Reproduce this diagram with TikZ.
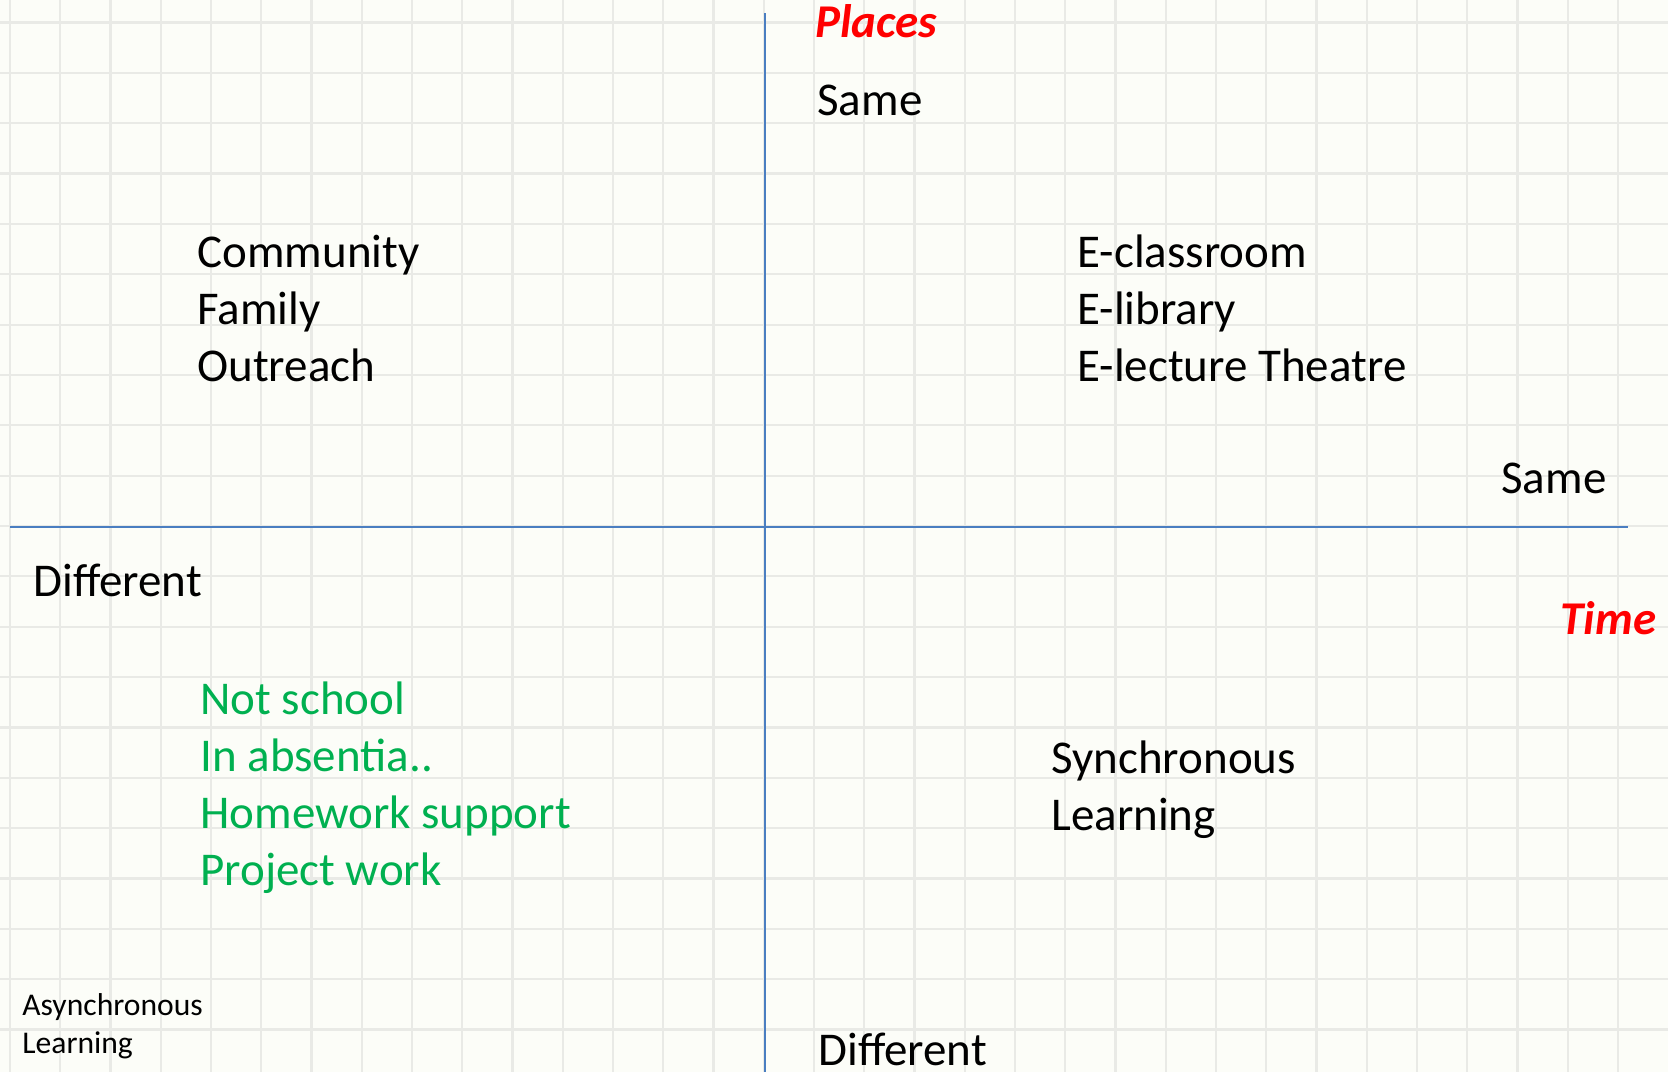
\documentclass[tikz,border=0pt]{standalone}
\usepackage{fontspec}
\setmainfont{Carlito}
\definecolor{paper}{HTML}{FCFDF8}
\definecolor{gridgray}{HTML}{E9EAE6}
\definecolor{axisblue}{HTML}{4A7EC1}
\definecolor{axisred}{HTML}{FF0000}
\definecolor{listgreen}{HTML}{00B050}

\begin{document}
\begin{tikzpicture}[x=0.5pt,y=-0.5pt]
    \tikzstyle{word} = [anchor=base west, inner sep=0pt, align=left,
    font={\fontsize{23.5}{28.5}\selectfont}]
    \tikzstyle{smallword} = [word, font={\fontsize{15.8}{19}\selectfont}]
    \tikzstyle{axisname} = [word, text=axisred,
    font={\fontsize{23.5}{28.5}\selectfont\bfseries\itshape}]
    \tikzstyle{axisline} = [draw=axisblue, line width=1pt]
    \tikzstyle{gridline} = [draw=gridgray, line width=1.1pt]

    % paper and squares
    \fill [paper] (0,0) rectangle (1668,1072);
    \useasboundingbox (0,0) rectangle (1668,1072);
    \foreach \i in {0,...,32}
        \draw [gridline] (10+50.25*\i,0) -- (10+50.25*\i,1072);
    \foreach \j in {0,...,20}
        \draw [gridline] (0,22.5+50.35*\j) -- (1668,22.5+50.35*\j);

    % axes
    \coordinate (top) at (765,13);
    \coordinate (bottom) at (765,1072);
    \coordinate (left) at (9.6,527);
    \coordinate (right) at (1628,527);
    \draw [axisline] (top) -- (bottom);
    \draw [axisline] (left) -- (right);

    % axis names
    \node [axisname] (places) at (815,37) {Places};
    \node [axisname] (time) at (1560,634) {Time};
    \node [word] (sametop) at (817,115) {Same};
    \node [word] (sameright) at (1501,493) {Same};
    \node [word] (diffleft) at (33,596) {Different};
    \node [word] (diffbottom) at (818,1065) {Different};

    % quadrants (base = last line)
    \node [word] (community) at (197,381) {Community\\Family\\Outreach};
    \node [word] (eclass) at (1077,381) {E-classroom\\E-library\\E-lecture Theatre};
    \node [word, text=listgreen] (notschool) at (200,885)
        {Not school\\In absentia..\\Homework support\\Project work};
    \node [word] (sync) at (1051,830) {Synchronous\\Learning};
    \node [smallword] (async) at (22,1053) {Asynchronous\\Learning};
\end{tikzpicture}
\end{document}
